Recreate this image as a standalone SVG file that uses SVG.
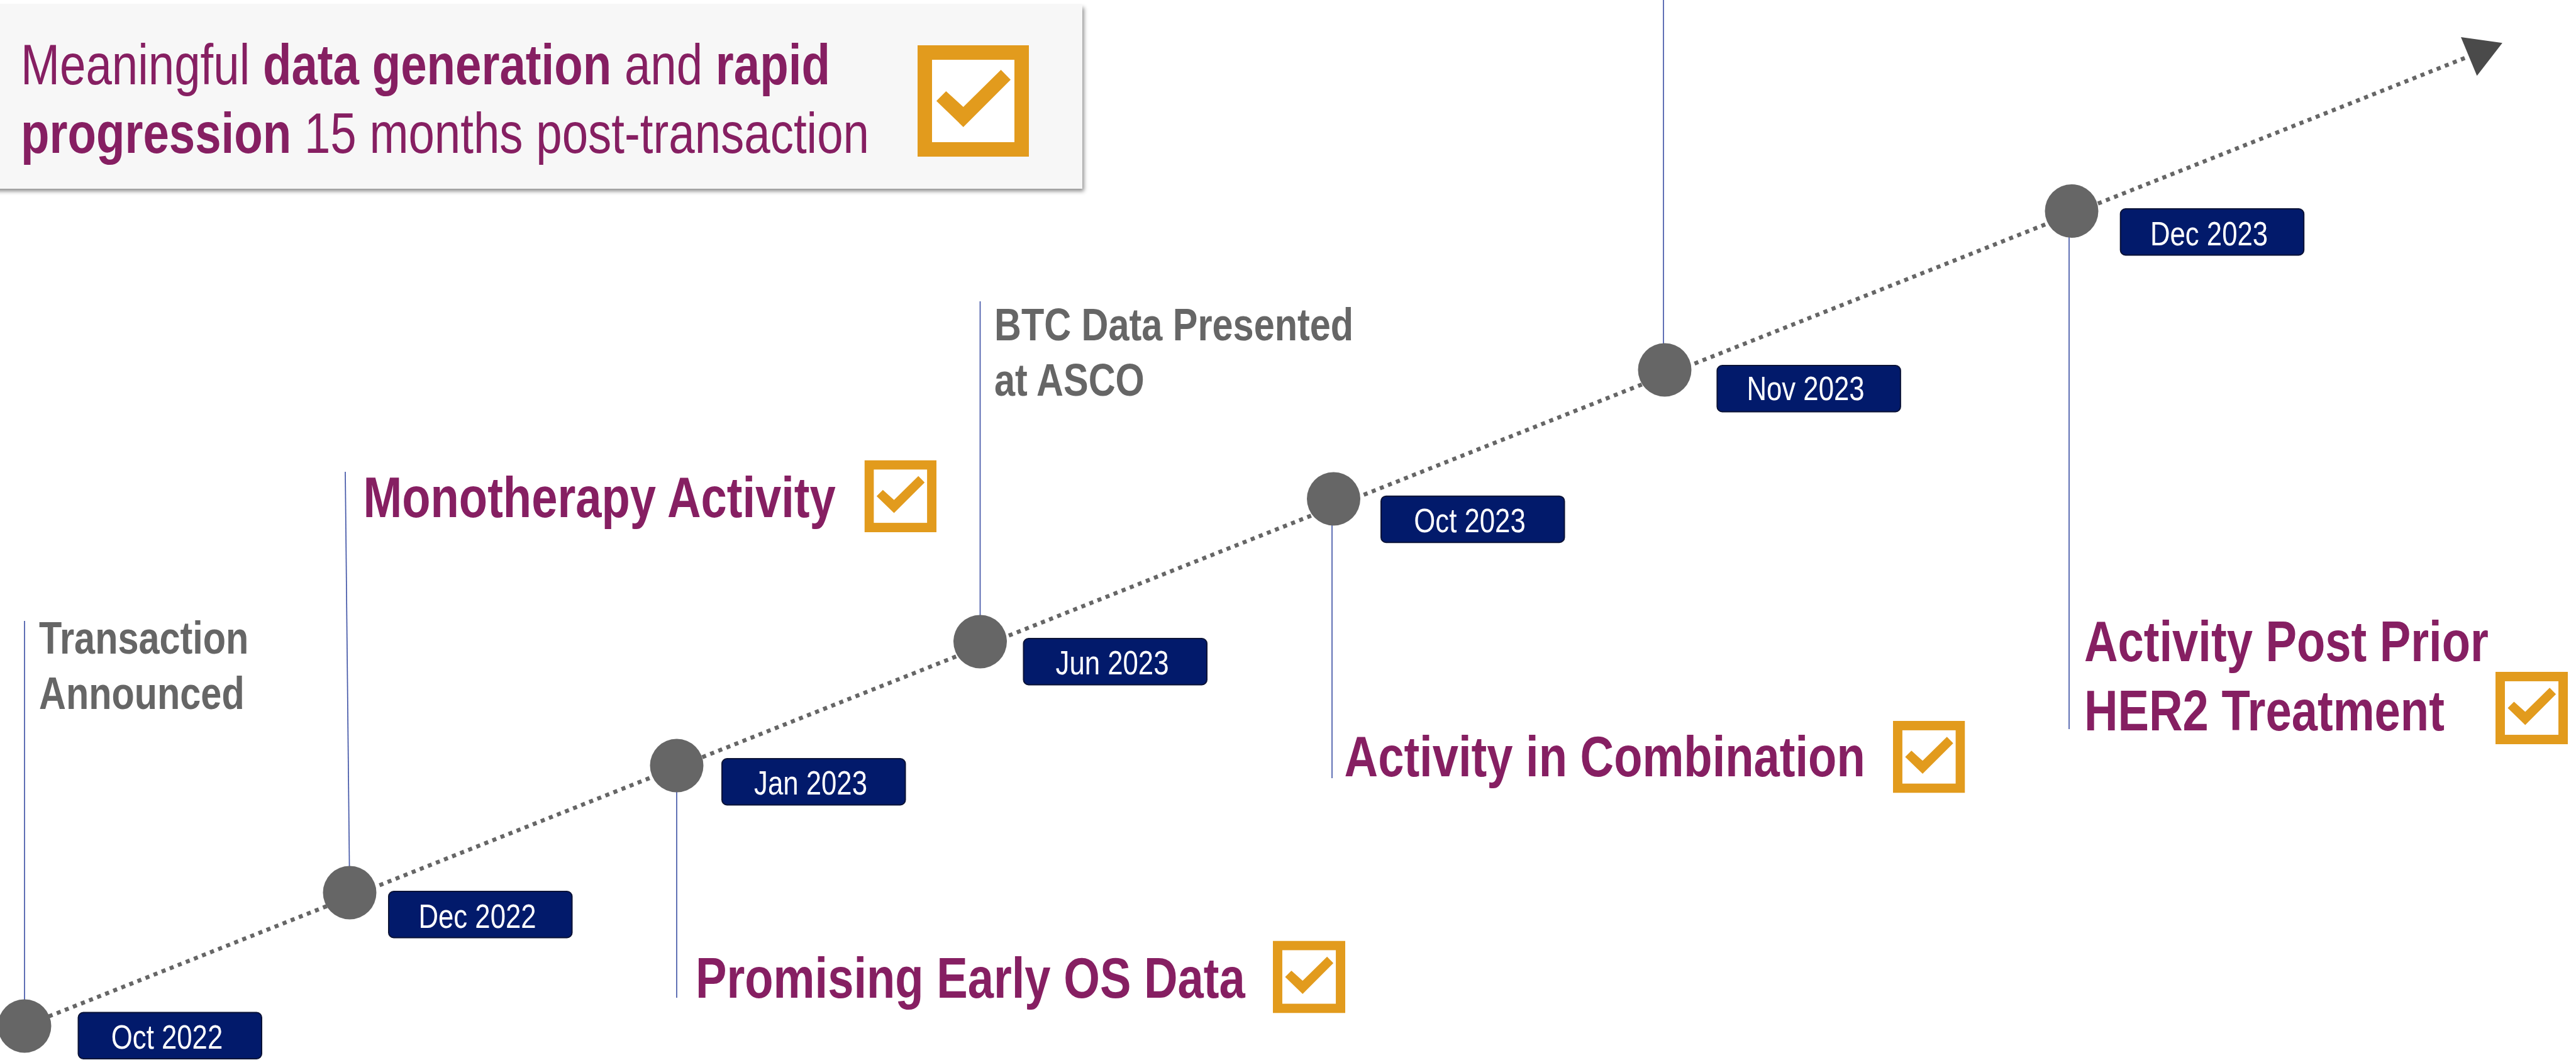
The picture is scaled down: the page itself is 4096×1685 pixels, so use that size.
<svg xmlns="http://www.w3.org/2000/svg" xmlns:xlink="http://www.w3.org/1999/xlink" width="4096" height="1685" viewBox="0 0 4096 1685">
  <defs>
    <style>
      .lbl { font-family: "Liberation Sans", Arial, sans-serif; font-weight: bold; }
      .gray { fill: #666666; font-size: 72px; }
      .plum { fill: #861F62; font-size: 91px; }
      .date { font-family: "Liberation Sans", Arial, sans-serif; fill: #ffffff; font-size: 54px; text-anchor: middle; }
      .hdr { font-family: "Liberation Sans", Arial, sans-serif; fill: #861F62; font-size: 91.7px; }
      .b { font-weight: bold; }
      .dot { fill: #666666; }
      .tag { fill: #021A6B; stroke: #0A1236; stroke-width: 2; }
      .stem { stroke: #4558A8; stroke-width: 1.7; fill: none; }
      .axis { stroke: #666666; stroke-width: 6.5; stroke-dasharray: 6.5 7.3; fill: none; }
    </style>
    <filter id="shadow" x="-5%" y="-10%" width="115%" height="130%">
      <feDropShadow dx="2.5" dy="4" stdDeviation="3" flood-color="#000000" flood-opacity="0.45"/>
    </filter>
    <symbol id="check" viewBox="0 0 100 100">
      <rect width="100" height="100" fill="#E29B1D"/>
      <rect x="13" y="13" width="74" height="74" fill="#ffffff"/>
      <polygon points="16.9,50 25.6,41.3 41.1,55.3 74.9,22 83.6,30.9 41.1,73.4" fill="#E29B1D"/>
    </symbol>
  </defs>

  <rect width="4096" height="1685" fill="#ffffff"/>

  <!-- headline panel -->
  <g id="headline">
    <rect x="-20" y="8" width="1741" height="292" fill="#F7F7F7" filter="url(#shadow)"/>
    <text class="hdr" transform="translate(33 134) scale(0.812 1)"><tspan>Meaningful </tspan><tspan class="b">data generation</tspan><tspan> and </tspan><tspan class="b">rapid</tspan></text>
    <text class="hdr" transform="translate(33 243) scale(0.812 1)"><tspan class="b">progression</tspan><tspan> 15 months post-transaction</tspan></text>
    <use xlink:href="#check" x="1459" y="72" width="177" height="177"/>
  </g>

  <!-- timeline axis and milestone stems -->
  <g id="connectors">
    <line class="axis" x1="39" y1="1631" x2="3921" y2="91.5"/>
    <polygon points="3913,58.9 3978.9,68.2 3938.5,120.5" fill="#4A4A4A"/>
    <line class="stem" x1="39" y1="987" x2="39" y2="1631"/>
    <line class="stem" x1="549" y1="750" x2="556" y2="1419"/>
    <line class="stem" x1="1076" y1="1217" x2="1076" y2="1586"/>
    <line class="stem" x1="1558.5" y1="479" x2="1558.5" y2="1020"/>
    <line class="stem" x1="2118" y1="793" x2="2118" y2="1237"/>
    <line class="stem" x1="2645" y1="0" x2="2645" y2="588"/>
    <line class="stem" x1="3290" y1="335" x2="3290" y2="1159"/>
  </g>

  <!-- Oct 2022 -->
  <g id="m-oct2022">
    <circle class="dot" cx="39" cy="1631" r="42.5"/>
    <rect class="tag" x="124.5" y="1609.5" width="291.5" height="73.5" rx="8"/>
    <text class="date" transform="translate(265.5 1667) scale(0.81 1)">Oct 2022</text>
    <text class="lbl gray" transform="translate(62 1039) scale(0.825 1)">Transaction</text>
    <text class="lbl gray" transform="translate(62 1127) scale(0.825 1)">Announced</text>
  </g>

  <!-- Dec 2022 -->
  <g id="m-dec2022">
    <circle class="dot" cx="556" cy="1419" r="42.5"/>
    <rect class="tag" x="618" y="1417" width="291.5" height="73.5" rx="8"/>
    <text class="date" transform="translate(759 1475) scale(0.81 1)">Dec 2022</text>
    <text class="lbl plum" transform="translate(577.5 821.7) scale(0.815 1)">Monotherapy Activity</text>
    <use xlink:href="#check" x="1374.5" y="731.5" width="114.5" height="114.5"/>
  </g>

  <!-- Jan 2023 -->
  <g id="m-jan2023">
    <circle class="dot" cx="1076" cy="1217" r="42.5"/>
    <rect class="tag" x="1148" y="1206" width="291.5" height="73.5" rx="8"/>
    <text class="date" transform="translate(1289 1263) scale(0.81 1)">Jan 2023</text>
    <text class="lbl plum" transform="translate(1106 1586) scale(0.815 1)">Promising Early OS Data</text>
    <use xlink:href="#check" x="2024" y="1495.5" width="115" height="115"/>
  </g>

  <!-- Jun 2023 -->
  <g id="m-jun2023">
    <circle class="dot" cx="1558.5" cy="1020" r="42.5"/>
    <rect class="tag" x="1627.5" y="1015" width="291.5" height="73.5" rx="8"/>
    <text class="date" transform="translate(1768.5 1072) scale(0.81 1)">Jun 2023</text>
    <text class="lbl gray" transform="translate(1581 541) scale(0.825 1)">BTC Data Presented</text>
    <text class="lbl gray" transform="translate(1581 628.6) scale(0.825 1)">at ASCO</text>
  </g>

  <!-- Oct 2023 -->
  <g id="m-oct2023">
    <circle class="dot" cx="2120.5" cy="793" r="42.5"/>
    <rect class="tag" x="2196" y="788.7" width="291.5" height="73.5" rx="8"/>
    <text class="date" transform="translate(2337 845.5) scale(0.81 1)">Oct 2023</text>
    <text class="lbl plum" transform="translate(2137.6 1234) scale(0.815 1)">Activity in Combination</text>
    <use xlink:href="#check" x="3010" y="1146" width="114.5" height="114.5"/>
  </g>

  <!-- Nov 2023 -->
  <g id="m-nov2023">
    <circle class="dot" cx="2647" cy="588" r="42.5"/>
    <rect class="tag" x="2730.4" y="581" width="291.5" height="73.5" rx="8"/>
    <text class="date" transform="translate(2871 636) scale(0.81 1)">Nov 2023</text>
  </g>

  <!-- Dec 2023 -->
  <g id="m-dec2023">
    <circle class="dot" cx="3294" cy="335.5" r="42.5"/>
    <rect class="tag" x="3371.7" y="332" width="291.5" height="73.5" rx="8"/>
    <text class="date" transform="translate(3512.5 389.5) scale(0.81 1)">Dec 2023</text>
    <text class="lbl plum" transform="translate(3314 1051) scale(0.815 1)">Activity Post Prior</text>
    <text class="lbl plum" transform="translate(3314 1160.7) scale(0.815 1)">HER2 Treatment</text>
    <use xlink:href="#check" x="3968" y="1068" width="115" height="115"/>
  </g>
</svg>
